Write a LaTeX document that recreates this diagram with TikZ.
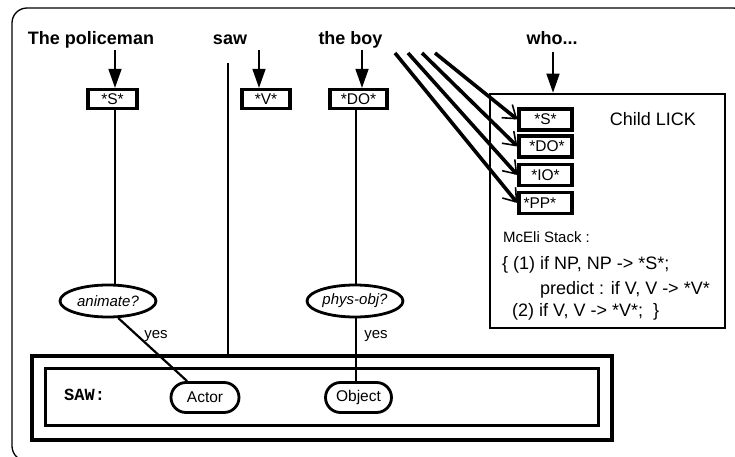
\documentclass[tikz,border=0pt]{standalone}
\usepackage{fontspec}
\setmainfont{Liberation Sans}
\setmonofont{Liberation Mono}
\usetikzlibrary{arrows.meta,shapes.geometric,shapes.misc}

\tikzset{
  word/.style={font=\fontsize{18}{20}\selectfont\bfseries, inner sep=0pt, anchor=base},
  tagbox/.style={draw, line width=3.2pt, font=\fontsize{15.5}{17}\selectfont,
    minimum height=19pt, inner sep=0pt},
  slotbox/.style={draw, line width=3.2pt, font=\fontsize{15.5}{17}\selectfont,
    minimum width=53pt, minimum height=21pt, inner sep=0pt, text width=49pt},
  test/.style={draw, ellipse, line width=2.8pt, inner sep=0pt,
    minimum width=96pt, minimum height=32pt, font=\fontsize{15}{17}\selectfont\itshape},
  role/.style={draw, rounded rectangle, line width=2.8pt, inner sep=0pt,
    minimum width=68pt, minimum height=30pt, font=\fontsize{15.5}{17}\selectfont},
  plain/.style={inner sep=0pt, font=\fontsize{15}{17}\selectfont},
  stackline/.style={inner sep=0pt, anchor=base west, font=\fontsize{18}{20}\selectfont},
  down/.style={line width=1.5pt, -{Triangle[length=19pt,width=13pt]}},
  fan/.style={line width=3.6pt, -{Straight Barb[length=12pt,width=17pt,line width=1.6pt]}},
  link/.style={line width=2.2pt},
}

\begin{document}
\begin{tikzpicture}[x=1pt,y=-1pt]
\useasboundingbox (0,0) rectangle (735,457);

% outer frame, running past the page on the right and bottom
\begin{scope}
  \clip (0,0) rectangle (735,457);
  \draw[line width=1.3pt, rounded corners=15pt] (12,8) rectangle (748,461);
\end{scope}

% sentence words
\node[word] (pol) at (91,44.5) {The policeman};
\node[word] (saw) at (230,44.5) {saw};
\node[word] (boy) at (350.5,44.5) {the boy};
\node[word] (who) at (552,44.5) {who...};

% constituent tags
\node[tagbox, minimum width=49pt] (sbox) at (112.5,99) {*S*};
\node[tagbox, minimum width=48pt] (vbox) at (266,99) {*V*};
\node[tagbox, minimum width=57pt] (dobox) at (358.5,99) {*DO*};

\coordinate (pa) at (115,50);
\coordinate (va) at (259,50);
\coordinate (ba) at (362,50);
\coordinate (wa) at (553,52);
\draw[down] (pa) -- (pa |- sbox.north);
\draw[down] (va) -- (va |- vbox.north);
\draw[down] (ba) -- (ba |- dobox.north);

% child LICK
\node[draw, line width=2.6pt, minimum width=235pt, minimum height=234pt, inner sep=0pt]
  (lick) at (607.5,211) {};
\draw[down] (wa) -- (wa |- lick.north);
\node[font=\fontsize{18}{20}\selectfont, inner sep=0pt] (lickname) at (653,119) {Child LICK};

% slot boxes
\node[slotbox, align=center] (ls) at (545.5,119.5) {*S*\hspace*{4pt}};
\node[slotbox, align=center] (ldo) at (545.5,146.5) {\hspace*{3pt}*DO*};
\node[slotbox, align=center] (lio) at (545.5,175) {*IO*};
\node[slotbox, align=left] (lpp) at (545.5,203) {\hspace*{2.5pt}*PP*};

\coordinate (f1) at (395,53);
\coordinate (f2) at (408,53);
\coordinate (f3) at (422,53);
\coordinate (f4) at (435,53);
\draw[fan] (f1) -- (lpp.west);
\draw[fan] (f2) -- (lio.west);
\draw[fan] (f3) -- (ldo.west);
\draw[fan] (f4) -- (ls.west);

\node[plain, anchor=base west] (stack) at (503,242) {McEli Stack :};
\node[stackline] (st1) at (502,269.5) {\{ (1) if NP, NP -> *S*;};
\node[stackline] (st2) at (540,294.5) {predict : if V, V -> *V*};
\node[stackline] (st3) at (512,316.5) {(2) if V, V -> *V*;\ \ \}};

% selection tests
\node[test] (anim) at (108,301) {animate?};
\node[test] (phys) at (355,301) {phys-obj?};

% SAW frame
\node[draw, line width=3.6pt, minimum width=580pt, minimum height=84pt, inner sep=0pt]
  (sawouter) at (322,398) {};
\node[draw, line width=3pt, minimum width=553pt, minimum height=57pt, inner sep=0pt]
  (sawinner) at (321.5,396.5) {};
\node[inner sep=0pt, anchor=base west, font=\fontsize{17}{18}\selectfont\ttfamily\bfseries]
  (sawname) at (64,400) {SAW:};
\node[role] (actor) at (205,397.5) {Actor};
\node[role, minimum width=66pt] (object) at (358.5,397.5) {Object};

% connections
\draw[link] (sbox.south -| pa) -- (anim.north -| pa);
\coordinate (ox) at (356,0);
\draw[link] (dobox.south -| ox) -- (phys.north -| ox);
\coordinate (vtop) at (228,63);
\draw[line width=1.5pt] (vtop) -- (vtop |- sawouter.north);

\draw[link] (anim.-59) -- (actor);
\draw[link] (phys.south -| ox) -- (object.north -| ox);

\node[plain] (yes1) at (156,336) {yes};
\node[plain] (yes2) at (376,336) {yes};
\end{tikzpicture}
\end{document}
